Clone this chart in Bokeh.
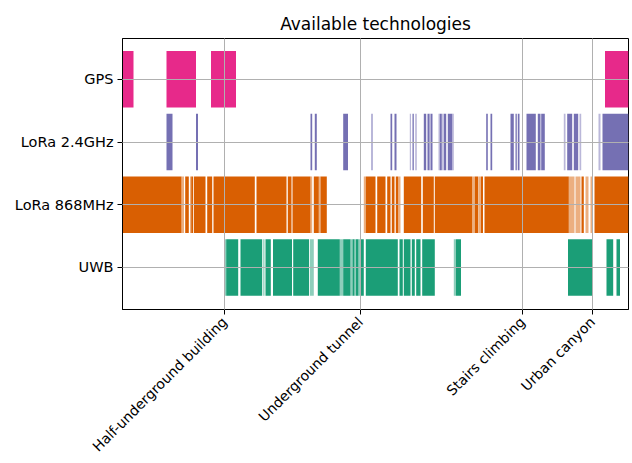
import math
from bokeh.plotting import figure
from bokeh.models import Range1d, FixedTicker, ColumnDataSource
from bokeh.embed import file_html
from bokeh.resources import INLINE

# ---------------- data (time offsets, arbitrary units) ----------------
technologies = ["UWB", "LoRa 868MHz", "LoRa 2.4GHz", "GPS"]
colors = ["#1b9e77", "#d95f02", "#7570b3", "#e7298a"]

gps_start = [0, 44, 88.5, 482.5]
gps_end = [11, 73.5, 113.5, 506]

lora24_start = [44, 73.5, 188, 192.3, 220.7, 249, 268, 272, 290, 301.3, 305, 308.3,
                317.3, 321.3, 325.3, 363.7, 368, 388, 393, 395.3, 404, 415.3, 418.7,
                444.7, 451.3, 480]
lora24_end = [50, 75.5, 189.7, 194.3, 225.5, 250, 269.7, 274, 291.3, 303.7, 307, 310,
              319.3, 323.7, 329.7, 365.3, 369.7, 391.3, 394.3, 397, 413.3, 418, 422.3,
              449.7, 455.7, 506]
lora24_weak_start = [287.3, 292.7, 307, 316, 319.7, 329.7, 441.3, 457, 476]
lora24_weak_end = [288.5, 294.3, 308.3, 317.3, 321, 331.3, 443, 458.7, 478]

lora868_start = [0, 62.7, 68.7, 71.5, 84.7, 91, 134, 165.3, 170, 191.3, 198, 243.3,
                 254.7, 264.7, 269.3, 273.3, 281.3, 300.3, 312.3, 352.3, 358.5, 362,
                 459, 472]
lora868_end = [59, 66.3, 70.7, 83, 89.7, 132.3, 164, 169, 188, 196.3, 204.3, 253,
               263, 268, 272, 275.7, 298.7, 311.3, 349.7, 355.7, 360.5, 446.3,
               461.3, 506]
lora868_weak_start = [59, 67.5, 188, 196.3, 241.3, 275.7, 349.7, 356, 446.3, 453, 463, 468]
lora868_weak_end = [61.5, 68.7, 189.7, 198, 243.3, 278, 352.3, 358.5, 452, 458, 466, 470]

uwb_start = [103.7, 118, 143, 150.5, 170.7, 195.3, 220.7, 230, 233.5, 237.5, 243.3,
             277, 281.3, 289.3, 293.7, 299.7, 333.5, 445.5, 484, 494]
uwb_end = [115.7, 139.7, 148.3, 169.5, 186.5, 217.3, 228, 232, 236, 241.3, 275.3,
           280.3, 288, 292.3, 298, 312.3, 338.5, 469.7, 490.7, 497.5]
uwb_weak_start = [101.5, 140.7, 187.3, 217.3, 228, 232, 236, 331.3]
uwb_weak_end = [103.7, 142, 191.3, 220.7, 230, 233.5, 237.5, 333.5]

scenario_ticks = [102, 238, 400, 470]
scenario_labels = ["Half-underground building", "Underground tunnel",
                   "Stairs climbing", "Urban canyon"]

# ---------------- figure ----------------
y_lo, y_hi = -0.67, 3.65
p = figure(width=632, height=463, output_backend="svg", toolbar_location=None,
           x_range=Range1d(0, 506), y_range=Range1d(y_lo, y_hi),
           title="Available technologies",
           min_border_left=122, min_border_right=4, min_border_top=38,
           min_border_bottom=149)

series = [
    (0, uwb_start, uwb_end, uwb_weak_start, uwb_weak_end),
    (1, lora868_start, lora868_end, lora868_weak_start, lora868_weak_end),
    (2, lora24_start, lora24_end, lora24_weak_start, lora24_weak_end),
    (3, gps_start, gps_end, [], []),
]
for idx, s, e, ws, we in series:
    col = colors[idx]
    if ws:
        src_w = ColumnDataSource(dict(y=[idx] * len(ws), left=ws, right=we))
        p.hbar(y="y", left="left", right="right", height=0.9, source=src_w,
               fill_color=col, fill_alpha=0.5, line_color=None)
    src = ColumnDataSource(dict(y=[idx] * len(s), left=s, right=e))
    p.hbar(y="y", left="left", right="right", height=0.9, source=src,
           fill_color=col, fill_alpha=1.0, line_color=None)

# title
p.title.align = "center"
p.title.text_font = "DejaVu Sans"
p.title.text_font_size = "17px"
p.title.text_font_style = "normal"
p.title.text_color = "black"
p.title.standoff = 10

# axes
p.xaxis.ticker = FixedTicker(ticks=scenario_ticks)
p.xaxis.major_label_overrides = {t: l for t, l in zip(scenario_ticks, scenario_labels)}
p.xaxis.major_label_orientation = math.pi / 4
p.xaxis.major_label_standoff = 5
p.xaxis.major_label_text_font_size = "14px"
p.yaxis.ticker = FixedTicker(ticks=[0, 1, 2, 3])
p.yaxis.major_label_overrides = {i: t for i, t in enumerate(technologies)}
p.yaxis.major_label_standoff = 4
p.yaxis.major_label_text_font_size = "14.5px"

for ax in (p.xaxis, p.yaxis):
    ax.major_label_text_font = "DejaVu Sans"
    ax.major_label_text_color = "black"
    ax.axis_line_color = "black"
    ax.major_tick_line_color = "black"
    ax.major_tick_out = 5
    ax.major_tick_in = 0
    ax.minor_tick_line_color = None

p.outline_line_color = "black"
p.outline_line_alpha = 1.0

p.xgrid.ticker = FixedTicker(ticks=scenario_ticks)
p.ygrid.ticker = FixedTicker(ticks=[0, 1, 2, 3])
p.grid.grid_line_color = "#b0b0b0"
p.grid.grid_line_width = 1
p.grid.level = "overlay"

p.background_fill_color = "white"
p.border_fill_color = "white"

open("out.html", "w").write(file_html(p, INLINE))
